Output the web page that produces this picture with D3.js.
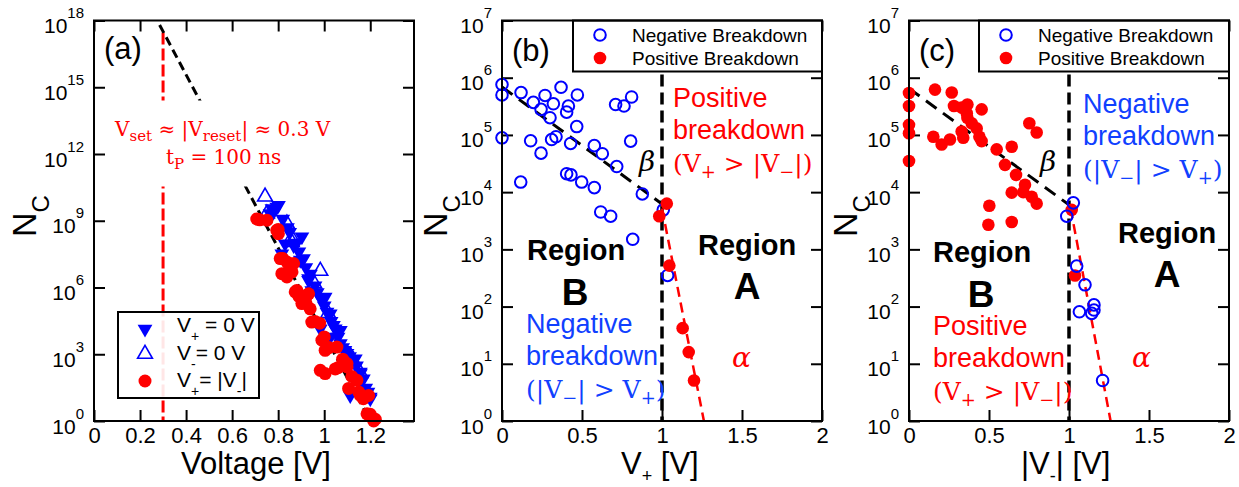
<!DOCTYPE html>
<html>
<head>
<meta charset="utf-8">
<script src="https://cdn.jsdelivr.net/npm/d3@7"></script>
<style>
  body { margin: 0; background: #fff; }
  svg { font-family: "Liberation Sans", Arial, Helvetica, sans-serif; }
</style>
</head>
<body>
<svg id="chart" width="1239" height="487"></svg>
<script>
// ---- data ----
// panel (a): N_C vs voltage, three bias schemes
const aDownV = [0.794, 0.765, 0.801, 0.773, 0.903, 0.867, 0.816, 0.896, 0.932, 0.99, 1.012, 1.048, 0.983, 1.07, 1.127, 1.157, 1.2, 1.113, 0.946, 1.099, 1.026, 0.91, 0.932, 1.004, 0.83, 0.99, 1.026, 1.07, 1.099, 1.135, 1.157, 1.2,
  0.78, 0.82, 0.84, 0.85, 0.88, 0.89, 0.92, 0.94, 0.96, 0.97, 1.0, 1.03, 1.04, 1.06, 1.08, 1.09, 1.11, 1.14, 1.17, 1.18, 1.19];
const aDownN = [4.1e9, 2.1e9, 4.9e9, 3.5e9, 1.9e8, 7.8e7, 3.3e7, 1.7e7, 2.5e6, 3.2e5, 7.9e4, 1.4e4, 1.4e4, 3.0e3, 5.4e2, 1.6e2, 10, 14, 7.4e5, 1.1e3, 5.9e3, 2.0e7, 2.1e6, 3.7e5, 9.3e7, 2.6e5, 6.6e4, 1.2e4, 8.9e2, 6.3e2, 1.35e2, 12,
  2.5e9, 1.2e9, 5e8, 3e8, 1e8, 4e7, 8e6, 4e6, 1.2e6, 6e5, 1.5e5, 3e4, 2e4, 6e3, 2e3, 1.5e3, 8e2, 3e2, 80, 30, 20];
const aUpV = [0.743, 0.751, 0.838, 0.859, 0.983, 0.957, 1.017, 1.116, 1.157, 0.859];
const aUpN = [1.2e10, 2.1e9, 7.4e8, 1.7e8, 5.5e6, 1.5e6, 6.9e4, 7.6e2, 1.4e2, 1.1e8];
const aCircV = [0.707, 0.751, 0.794, 0.801, 0.809, 0.838, 0.867, 0.816, 0.838, 0.874, 0.925, 0.903, 0.939, 0.946, 0.99, 1.004, 0.983, 1.004, 1.048, 1.055, 1.099, 1.106, 1.142, 1.157, 1.186, 1.215, 0.881, 0.932, 1.099, 1.193, 1.222,
  0.72, 0.80, 0.82, 0.85, 0.86, 0.89, 0.91, 0.92, 0.96, 0.98, 1.0, 1.02, 1.06, 1.08, 1.12, 1.15, 1.17, 1.2];
const aCircN = [1.2e9, 1.05e9, 3.7e8, 2.6e8, 2.0e7, 1.4e7, 1.2e7, 4.2e6, 3.0e6, 6.3e5, 4.5e5, 1.9e5, 1.1e5, 2.8e4, 4.3e3, 1.5e3, 1.9e2, 1.35e2, 2.2e2, 2.1e3, 3.8e2, 29, 68, 14, 2.1, 1.0, 7.4e5, 5.2e5, 2.7e2, 14, 1.2,
  1.1e9, 4e8, 2e7, 8e6, 5e6, 4e5, 3e5, 2e5, 3e4, 2.5e4, 6e3, 2e3, 2.5e2, 6e2, 1e2, 20, 10, 2];
const aFitV = [0.285, 1.2];
const aFitN = [6.3e17, 1];
const aSetV = 0.3;

// panel (b): N_C vs V+
const bNegV = [0, 0, 0, 0.119, 0.117, 0.196, 0.269, 0.244, 0.321, 0.369, 0.30, 0.415, 0.404, 0.471, 0.467, 0.179, 0.244, 0.31, 0.3375, 0.429, 0.404, 0.431, 0.498, 0.577, 0.627, 0.577, 0.717, 0.617, 0.679, 0.71, 0.7625, 0.81, 0.804, 0.877, 0.817, 1.008, 1.035];
const bNegN = [7.6e5, 5.0e5, 8.9e4, 5.5e5, 1.5e4, 3.7e5, 4.9e5, 2.8e5, 3.5e5, 6.8e5, 2.0e5, 3.2e5, 2.5e5, 5.0e5, 1.4e5, 7.9e4, 4.8e4, 8.3e4, 9.3e4, 7.1e4, 2.1e4, 2.0e4, 1.5e4, 6.5e4, 4.7e4, 1.2e4, 2.8e4, 4.5e3, 3.8e3, 3.4e5, 3.2e5, 4.6e5, 7.8e4, 9.3e3, 1.5e3, 4.9e3, 3.5e2];
const bPosV = [1.03, 0.983, 1.046, 1.129, 1.167, 1.2];
const bPosN = [6.3e3, 3.8e3, 5.2e2, 42, 16, 5.1];
const bBetaV = [0, 1.0];
const bBetaN = [6.9e5, 6.2e3];
const bAlphaV = [1.0, 1.262];
const bAlphaN = [5.2e3, 1];

// panel (c): N_C vs |V-|
const cPosV = [0, 0, 0, 0, 0, 0.1625, 0.267, 0.281, 0.365, 0.329, 0.365, 0.423, 0.454, 0.152, 0.204, 0.256, 0.339, 0.454, 0.44, 0.548, 0.642, 0.60, 0.669, 0.725, 0.714, 0.642, 0.798, 0.752, 0.798, 0.502, 0.496, 0.642, 1.017, 1.0375, 0.767, 0.392, 0.361, 0.329];
const cPosN = [5.4e5, 3.2e5, 1.5e5, 1.07e5, 3.5e4, 6.2e5, 5.5e5, 3.2e5, 3.4e5, 3.0e5, 2.0e5, 1.3e5, 2.8e5, 9.3e4, 6.8e4, 8.3e4, 8.9e4, 7.8e4, 9.3e4, 5.6e4, 6.2e4, 3.0e4, 2.0e4, 1.35e4, 1.0e4, 9.8e3, 6.3e3, 1.6e5, 1.1e5, 5.8e3, 2.7e3, 3.0e3, 4.9e3, 3.5e2, 8.3e3, 1.6e5, 2.4e5, 1.15e5];
const cNegV = [1.027, 0.986, 1.048, 1.10, 1.065, 1.156, 1.156, 1.142, 1.21];
const cNegN = [6.5e3, 3.8e3, 5.1e2, 2.4e2, 81, 1.07e2, 87, 76, 5.1];
const cBetaV = [0, 1.0];
const cBetaN = [6.5e5, 6.0e3];
const cAlphaV = [1.01, 1.26];
const cAlphaN = [5.2e3, 1];

const xTicksA = [0, 0.2, 0.4, 0.6, 0.8, 1, 1.2];
const xTicksBC = [0, 0.5, 1, 1.5, 2];
const yTicksA = [1, 1e3, 1e6, 1e9, 1e12, 1e15, 1e18];
const yTicksBC = [1, 1e1, 1e2, 1e3, 1e4, 1e5, 1e6, 1e7];

// ---- drawing ----
const BLUE = "#0000ff", RED = "#ff0000", TXTBLUE = "#1040ff";
const SERIF = "'DejaVu Serif', serif";
const svg = d3.select("#chart");
const top0 = 20.5, pw = 320, ph = 400.5;

// text with sub/superscripts: parts = [[string, shift, size]]
function rich(g, x, y, parts, attrs) {
  const t = g.append("text").attr("x", x).attr("y", y);
  Object.entries(attrs || {}).forEach(([k, v]) => t.attr(k, v));
  let cur = 0;
  parts.forEach(([s, shift, size]) => {
    const sp = t.append("tspan").attr("dy", (shift || 0) - cur).text(s);
    if (size) sp.attr("font-size", size);
    cur = shift || 0;
  });
  return t;
}

function makePanel(left, xDom, xTicks, yDom, yTicks) {
  const g = svg.append("g").attr("transform", `translate(${left},${top0})`);
  const x = d3.scaleLinear().domain(xDom).range([0, pw]);
  const y = d3.scaleLog().domain(yDom).range([ph, 0]);

  const tickStyle = sel => {
    sel.select(".domain").remove();
    sel.selectAll(".tick line").attr("stroke", "#000").attr("stroke-width", 2);
  };
  g.append("g").attr("transform", `translate(0,${ph})`)
    .call(d3.axisBottom(x).tickValues(xTicks).tickSizeInner(-11).tickSizeOuter(0).tickPadding(6).tickFormat(d3.format("")))
    .call(tickStyle)
    .call(s => s.selectAll(".tick text").attr("font-size", 22).attr("fill", "#000").attr("font-family", null));
  g.append("g")
    .call(d3.axisTop(x).tickValues(xTicks).tickSizeInner(-11).tickSizeOuter(0).tickFormat(""))
    .call(tickStyle);
  g.append("g")
    .call(d3.axisLeft(y).tickValues(yTicks).tickSizeInner(-11).tickSizeOuter(0).tickPadding(10))
    .call(tickStyle)
    .call(s => s.selectAll(".tick text").attr("font-size", 21).attr("fill", "#000").attr("font-family", null)
      .attr("dy", "12px")
      .each(function (d) {
        const t = d3.select(this).text(null);
        t.append("tspan").text("10");
        t.append("tspan").attr("dy", -15).attr("font-size", 15).text(Math.round(Math.log10(d)));
      }));
  g.append("g").attr("transform", `translate(${pw},0)`)
    .call(d3.axisRight(y).tickValues(yTicks).tickSizeInner(-11).tickSizeOuter(0).tickFormat(""))
    .call(tickStyle);
  return { g, x, y };
}

function frame(p) {
  p.g.append("rect").attr("width", pw).attr("height", ph)
    .attr("fill", "none").attr("stroke", "#000").attr("stroke-width", 2);
}

function dashLine(p, vs, ns, color, width, dash) {
  p.g.append("path")
    .attr("d", d3.line().x(d => p.x(d[0])).y(d => p.y(d[1]))(vs.map((v, i) => [v, ns[i]])))
    .attr("fill", "none").attr("stroke", color).attr("stroke-width", width).attr("stroke-dasharray", dash);
}

function openCircles(p, vs, ns) {
  p.g.append("g").selectAll("circle").data(vs).join("circle")
    .attr("cx", d => p.x(d)).attr("cy", (d, i) => p.y(ns[i])).attr("r", 5.8)
    .attr("fill", "none").attr("stroke", BLUE).attr("stroke-width", 2);
}
function dots(p, vs, ns, r) {
  p.g.append("g").selectAll("circle").data(vs).join("circle")
    .attr("cx", d => p.x(d)).attr("cy", (d, i) => p.y(ns[i])).attr("r", r)
    .attr("fill", RED);
}

const tri = d3.symbol(d3.symbolTriangle, 95);

// ---------- panel (a) ----------
const pa = makePanel(94, [0, 1.39], xTicksA, [1, 1e18], yTicksA);
pa.g.append("line")
  .attr("x1", pa.x(aSetV)).attr("x2", pa.x(aSetV)).attr("y1", 12).attr("y2", ph)
  .attr("stroke", RED).attr("stroke-width", 3).attr("stroke-dasharray", "12,4");
dashLine(pa, aFitV, aFitN, "#000", 3, "9,5");
pa.g.append("rect").attr("x", 16).attr("y", 80).attr("width", 226).attr("height", 86).attr("fill", "#fff");
rich(pa.g, 21, 115, [["V"], ["set", 5, 15], [" ≈ |V"], ["reset", 5, 15], ["| ≈ 0.3 V"]],
  { fill: RED, "font-size": 20, "font-family": SERIF });
rich(pa.g, 72, 143, [["t"], ["P", 5, 15], [" = 100 ns"]],
  { fill: RED, "font-size": 20, "font-family": SERIF });

pa.g.append("g").selectAll("path").data(aUpV).join("path")
  .attr("d", tri).attr("transform", (d, i) => `translate(${pa.x(d)},${pa.y(aUpN[i])})`)
  .attr("fill", "none").attr("stroke", BLUE).attr("stroke-width", 1.6);
pa.g.append("g").selectAll("path").data(aDownV).join("path")
  .attr("d", tri).attr("transform", (d, i) => `translate(${pa.x(d)},${pa.y(aDownN[i])}) rotate(180)`)
  .attr("fill", BLUE);
dots(pa, aCircV, aCircN, 6.5);
frame(pa);
pa.g.append("text").attr("x", 10).attr("y", 38).attr("font-size", 31).text("(a)");

// legend (a)
const la = pa.g.append("g").attr("transform", "translate(24,291.5)");
la.append("rect").attr("width", 141).attr("height", 86).attr("fill", "#fff").attr("fill-opacity", 0.9)
  .attr("stroke", "#000").attr("stroke-width", 2);
la.append("path").attr("d", tri).attr("transform", "translate(27,17) rotate(180)").attr("fill", BLUE);
la.append("path").attr("d", tri).attr("transform", "translate(27,42)").attr("fill", "none").attr("stroke", BLUE).attr("stroke-width", 1.6);
la.append("circle").attr("cx", 27).attr("cy", 69).attr("r", 6.5).attr("fill", RED);
rich(la, 59, 20, [["V"], ["+", 9, 14], [" = 0 V"]], { "font-size": 21 });
rich(la, 59, 48, [["V"], ["-", 9, 14], ["= 0 V"]], { "font-size": 21 });
rich(la, 59, 75, [["V"], ["+", 9, 14], ["= |V"], ["-", 9, 14], ["|"]], { "font-size": 21 });

// ---------- panels (b) and (c) ----------
function regionText(p, bx, by, ax, ay) {
  p.g.append("text").attr("x", bx).attr("y", by).attr("font-size", 29).attr("font-weight", "bold").text("Region");
  p.g.append("text").attr("x", bx + 48).attr("y", by + 45).attr("font-size", 37).attr("font-weight", "bold")
    .attr("text-anchor", "middle").text("B");
  p.g.append("text").attr("x", ax).attr("y", ay).attr("font-size", 29).attr("font-weight", "bold").text("Region");
  p.g.append("text").attr("x", ax + 49).attr("y", ay + 44).attr("font-size", 37).attr("font-weight", "bold")
    .attr("text-anchor", "middle").text("A");
}
function breakdownText(p, x, y, color, word, cond) {
  p.g.append("text").attr("x", x).attr("y", y).attr("font-size", 27).attr("fill", color).text(word);
  p.g.append("text").attr("x", x).attr("y", y + 32).attr("font-size", 27).attr("fill", color).text("breakdown");
  rich(p.g, x, y + 65, cond, { fill: color, "font-size": 25, "font-family": SERIF });
}
const condPos = [["(V"], ["+", 6, 18], [" > |V"], ["−", 6, 18], ["|)"]];
const condNeg = [["(|V"], ["−", 6, 18], ["| > V"], ["+", 6, 18], [")"]];

function legendBC(p, left) {
  const lg = p.g.append("g").attr("transform", `translate(${left},0)`);
  lg.append("rect").attr("width", pw - left).attr("height", 51).attr("fill", "#fff")
    .attr("stroke", "#000").attr("stroke-width", 2);
  lg.append("circle").attr("cx", 27).attr("cy", 14.5).attr("r", 5.8).attr("fill", "none").attr("stroke", BLUE).attr("stroke-width", 2);
  lg.append("circle").attr("cx", 27).attr("cy", 37.5).attr("r", 6.3).attr("fill", RED);
  lg.append("text").attr("x", 59).attr("y", 21.5).attr("font-size", 19).text("Negative Breakdown");
  lg.append("text").attr("x", 59).attr("y", 44.5).attr("font-size", 19).text("Positive Breakdown");
}

function yTitle(cx) {
  rich(svg, 0, 0, [["N"], ["C", 13, 24]], { "font-size": 34, "text-anchor": "middle",
    transform: `translate(${cx},216) rotate(-90)` });
}

// (b)
const pb = makePanel(502, [0, 2], xTicksBC, [1, 1e7], yTicksBC);
pb.g.append("line").attr("x1", pb.x(1)).attr("x2", pb.x(1)).attr("y1", 0).attr("y2", ph)
  .attr("stroke", "#000").attr("stroke-width", 3.5).attr("stroke-dasharray", "12,6");
dashLine(pb, bBetaV, bBetaN, "#000", 3, "13,8");
dashLine(pb, bAlphaV, bAlphaN, RED, 2.5, "10,6");
openCircles(pb, bNegV, bNegN);
dots(pb, bPosV, bPosN, 6.3);
regionText(pb, 25, 239, 196, 234);
breakdownText(pb, 171, 86, RED, "Positive", condPos);
breakdownText(pb, 24, 312, TXTBLUE, "Negative", condNeg);
pb.g.append("text").attr("x", 137).attr("y", 150).attr("font-size", 28).attr("font-style", "italic")
  .attr("font-family", SERIF).text("β");
pb.g.append("text").attr("x", 230).attr("y", 346).attr("font-size", 28).attr("font-style", "italic")
  .attr("font-family", SERIF).attr("fill", RED).text("α");
legendBC(pb, 71);
frame(pb);
pb.g.append("text").attr("x", 10).attr("y", 40).attr("font-size", 31).text("(b)");

// (c)
const pc = makePanel(909, [0, 2], xTicksBC, [1, 1e7], yTicksBC);
pc.g.append("line").attr("x1", pc.x(1)).attr("x2", pc.x(1)).attr("y1", 0).attr("y2", ph)
  .attr("stroke", "#000").attr("stroke-width", 3.5).attr("stroke-dasharray", "12,6");
dashLine(pc, cBetaV, cBetaN, "#000", 3, "13,8");
dashLine(pc, cAlphaV, cAlphaN, RED, 2.5, "10,6");
dots(pc, cPosV, cPosN, 6.3);
openCircles(pc, cNegV, cNegN);
regionText(pc, 24, 241, 209, 222);
breakdownText(pc, 24, 314, RED, "Positive", condPos);
breakdownText(pc, 174, 92, TXTBLUE, "Negative", condNeg);
pc.g.append("text").attr("x", 131).attr("y", 150).attr("font-size", 28).attr("font-style", "italic")
  .attr("font-family", SERIF).text("β");
pc.g.append("text").attr("x", 223).attr("y", 346).attr("font-size", 28).attr("font-style", "italic")
  .attr("font-family", SERIF).attr("fill", RED).text("α");
legendBC(pc, 70);
frame(pc);
pc.g.append("text").attr("x", 10).attr("y", 40).attr("font-size", 31).text("(c)");

// axis titles
svg.append("text").attr("x", 256).attr("y", 474).attr("font-size", 31).attr("text-anchor", "middle").text("Voltage [V]");
rich(svg, 621, 474, [["V"], ["+", 8, 18], ["  [V]"]], { "font-size": 31 });
rich(svg, 1021, 474, [["|V"], ["-", 8, 18], ["| [V]"]], { "font-size": 31 });
yTitle(36);
yTitle(447);
yTitle(857);
</script>
</body>
</html>
